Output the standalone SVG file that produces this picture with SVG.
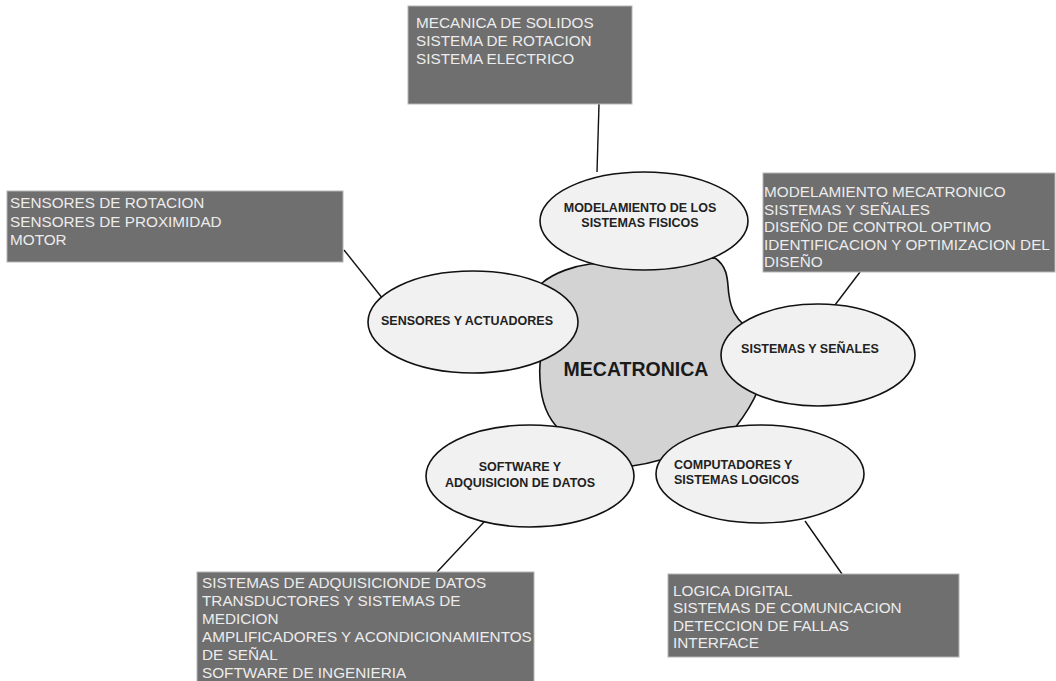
<svg xmlns="http://www.w3.org/2000/svg" width="1056" height="681" viewBox="0 0 1056 681">
<style>
.box{fill:#6f6f6f;stroke:#b5b5b5;stroke-width:1}
.bt{font-family:"Liberation Sans",Arial,sans-serif;font-size:15.3px;fill:#ececec}
.ell{fill:#f1f1f1;stroke:#111;stroke-width:1.6}
.et{font-family:"Liberation Sans",Arial,sans-serif;font-size:12.5px;font-weight:bold;fill:#222;text-anchor:middle}
.con{stroke:#111;stroke-width:1.4;fill:none}
</style>
<rect width="1056" height="681" fill="#fff"/>
<g id="center">
<path d="M 542 283 C 555 272, 575 266, 590 264 L 715 258 C 730 268, 727 285, 729 295 C 731 310, 736 318, 745 326 L 758 390 C 752 405, 745 415, 735 428 L 660 460 C 650 463, 640 465, 632 466 L 560 430 C 547 418, 541 400, 540 380 C 539 365, 541 355, 543 350 Z" fill="#d3d3d3" stroke="#111" stroke-width="1.6"/>
<text x="636" y="376" font-family="Liberation Sans, Arial, sans-serif" font-size="19.5" font-weight="bold" fill="#1a1a1a" text-anchor="middle">MECATRONICA</text>
</g>
<g id="connectors">
<line class="con" x1="599" y1="104" x2="597" y2="172"/>
<line class="con" x1="344" y1="250" x2="383" y2="299"/>
<line class="con" x1="860" y1="272" x2="835" y2="305"/>
<line class="con" x1="437" y1="572" x2="484" y2="522"/>
<line class="con" x1="842" y1="574" x2="805" y2="521"/>
</g>
<g id="n-modelamiento">
<ellipse class="ell" cx="644" cy="221" rx="104" ry="49"/>
<text class="et" x="640" y="211.5">MODELAMIENTO DE LOS</text>
<text class="et" x="640" y="226.5">SISTEMAS FISICOS</text>
</g>
<g id="n-sensores">
<ellipse class="ell" cx="473" cy="322" rx="105" ry="51"/>
<text class="et" x="467" y="324.5">SENSORES Y ACTUADORES</text>
</g>
<g id="n-sistemas">
<ellipse class="ell" cx="818" cy="355" rx="97" ry="51"/>
<text class="et" x="810" y="352.5">SISTEMAS Y SEÑALES</text>
</g>
<g id="n-software">
<ellipse class="ell" cx="530" cy="476" rx="104" ry="51"/>
<text class="et" x="520" y="470.5">SOFTWARE Y</text>
<text class="et" x="520" y="486.5">ADQUISICION DE DATOS</text>
</g>
<g id="n-computadores">
<ellipse class="ell" cx="760" cy="474" rx="104" ry="49"/>
<text class="et" x="674" y="468.5" style="text-anchor:start">COMPUTADORES Y</text>
<text class="et" x="674" y="483.5" style="text-anchor:start">SISTEMAS LOGICOS</text>
</g>
<g id="b-top">
<rect class="box" x="408" y="6" width="224" height="98"/>
<text class="bt" x="416" y="28">MECANICA DE SOLIDOS</text>
<text class="bt" x="416" y="46">SISTEMA DE ROTACION</text>
<text class="bt" x="416" y="64">SISTEMA ELECTRICO</text>
</g>
<g id="b-left">
<rect class="box" x="7" y="191" width="336" height="71"/>
<text class="bt" x="10" y="208">SENSORES DE ROTACION</text>
<text class="bt" x="10" y="226.5">SENSORES DE PROXIMIDAD</text>
<text class="bt" x="10" y="245">MOTOR</text>
</g>
<g id="b-right">
<rect class="box" x="763" y="173" width="292" height="99"/>
<text class="bt" x="764" y="197">MODELAMIENTO MECATRONICO</text>
<text class="bt" x="764" y="214.5">SISTEMAS Y SEÑALES</text>
<text class="bt" x="764" y="232">DISEÑO DE CONTROL OPTIMO</text>
<text class="bt" x="764" y="249.5">IDENTIFICACION Y OPTIMIZACION DEL</text>
<text class="bt" x="764" y="267">DISEÑO</text>
</g>
<g id="b-bottom-left">
<rect class="box" x="197" y="572" width="337" height="115"/>
<text class="bt" x="202" y="588">SISTEMAS DE ADQUISICIONDE DATOS</text>
<text class="bt" x="202" y="606">TRANSDUCTORES Y SISTEMAS DE</text>
<text class="bt" x="202" y="624">MEDICION</text>
<text class="bt" x="202" y="642">AMPLIFICADORES Y ACONDICIONAMIENTOS</text>
<text class="bt" x="202" y="660">DE SEÑAL</text>
<text class="bt" x="202" y="678">SOFTWARE DE INGENIERIA</text>
</g>
<g id="b-bottom-right">
<rect class="box" x="668" y="574" width="291" height="83"/>
<text class="bt" x="673" y="595.5">LOGICA DIGITAL</text>
<text class="bt" x="673" y="613">SISTEMAS DE COMUNICACION</text>
<text class="bt" x="673" y="630.5">DETECCION DE FALLAS</text>
<text class="bt" x="673" y="647.5">INTERFACE</text>
</g>
</svg>
